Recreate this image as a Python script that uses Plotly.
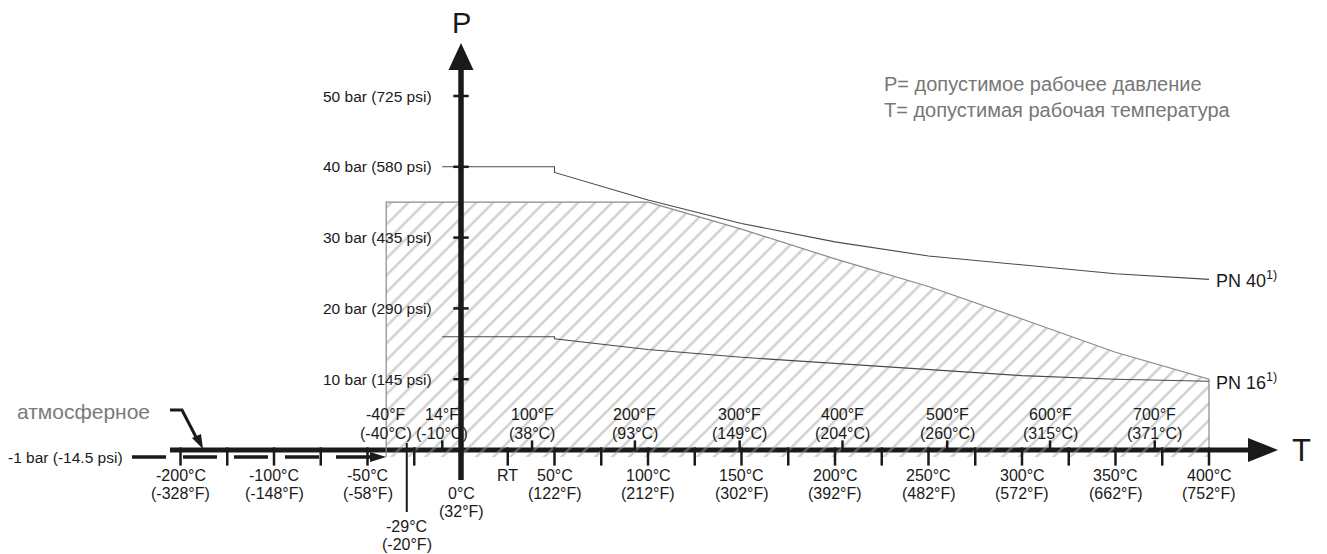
import plotly.graph_objects as go

# ---------------- data ----------------
# hatched permissible area (T in °C, P in bar)
area_T = [-40, -40, 100, 150, 200, 250, 300, 350, 400, 400]
area_P = [-1, 35, 35, 31.2, 27.0, 23.1, 18.5, 13.8, 10.0, -1]

# PN 40 limit curve
pn40_T = [-10, 50, 50, 100, 150, 200, 250, 300, 350, 400]
pn40_P = [40, 40, 39.2, 35.3, 32.0, 29.4, 27.4, 26.1, 24.9, 24.1]

# PN 16 limit curve
pn16_T = [-10, 50, 50, 100, 150, 200, 250, 300, 350, 400]
pn16_P = [16.0, 16.0, 15.7, 14.2, 13.1, 12.2, 11.3, 10.5, 10.0, 9.7]

# pressure axis
p_ticks = [50, 40, 30, 20, 10]
p_labels = ["50 bar (725 psi)", "40 bar (580 psi)", "30 bar (435 psi)",
            "20 bar (290 psi)", "10 bar (145 psi)"]
atm_P = -1
atm_label = "-1 bar (-14.5 psi)"

# temperature axis: ticks below the axis (°C); left of -100 the scale is broken,
# the tick at -150 carries the -200°C label
c_ticks = [-150, -125, -100, -75, -50, -25, 25, 50, 75, 100, 125, 150, 175,
           200, 225, 250, 275, 300, 325, 350, 375, 400]
c_label_pos = [-150, -100, -50, 50, 100, 150, 200, 250, 300, 350, 400]
c_label_c = ["-200°C", "-100°C", "-50°C", "50°C", "100°C", "150°C", "200°C",
             "250°C", "300°C", "350°C", "400°C"]
c_label_f = ["(-328°F)", "(-148°F)", "(-58°F)", "(122°F)", "(212°F)", "(302°F)",
             "(392°F)", "(482°F)", "(572°F)", "(662°F)", "(752°F)"]
rt_pos = 25
rt_label = "RT"
zero_label = ["0°C", "(32°F)"]
min_pos = -29
min_label = ["-29°C", "(-20°F)"]

# ticks above the axis (Fahrenheit values placed at their °C position)
f_ticks = [-10, 38, 93, 149, 204, 260, 315, 371]
f_label_pos = [-40, -10, 38, 93, 149, 204, 260, 315, 371]
f_label_f = ["-40°F", "14°F", "100°F", "200°F", "300°F", "400°F", "500°F",
             "600°F", "700°F"]
f_label_c = ["(-40°C)", "(-10°C)", "(38°C)", "(93°C)", "(149°C)", "(204°C)",
             "(260°C)", "(315°C)", "(371°C)"]

legend_lines = ["P= допустимое рабочее давление", "T= допустимая рабочая температура"]
atm_text = "атмосферное"

# ---------------- scale / layout ----------------
W, H = 1327, 554
ORIG_X, ORIG_Y = 461, 450          # pixel of (0 °C, 0 bar)
PX_C, PX_BAR = 1.87, 7.08          # pixels per °C / per bar
x_range = [-ORIG_X / PX_C, (W - ORIG_X) / PX_C]
y_range = [-(H - ORIG_Y) / PX_BAR, ORIG_Y / PX_BAR]


def dx(px):
    return px / PX_C


def dy(px):
    return px / PX_BAR


FONT = "Liberation Sans, Arial, Helvetica, sans-serif"
NARROW = "Liberation Sans Narrow, Arial Narrow, Liberation Sans, sans-serif"
INK = "#1a1a1a"

fig = go.Figure()


def line(xs, ys, color=INK, width=1.0, dash=None):
    fig.add_trace(go.Scatter(x=xs, y=ys, mode="lines", hoverinfo="skip",
                             line=dict(color=color, width=width, dash=dash),
                             showlegend=False))


def tri(xs, ys, color=INK):
    fig.add_trace(go.Scatter(x=xs, y=ys, mode="lines", fill="toself",
                             fillcolor=color, line=dict(width=0),
                             hoverinfo="skip", showlegend=False))


# temperature axis (under the hatching)
t_start = dx(170 - ORIG_X)
t_tip = dx(1278 - ORIG_X)
line([t_start, t_tip - dx(28)], [0, 0], width=5)
tri([t_tip - dx(30), t_tip, t_tip - dx(30), t_tip - dx(30)],
    [dy(12), 0, -dy(12), dy(12)])

# hatched area
fig.add_trace(go.Scatter(
    x=area_T, y=area_P, mode="lines", fill="toself",
    fillcolor="rgba(0,0,0,0)",
    fillpattern=dict(shape="/", size=12, solidity=0.2, fgcolor="#a0a0a0",
                     bgcolor="rgba(0,0,0,0)"),
    line=dict(color="#8a8a8a", width=1.2), hoverinfo="skip", showlegend=False))

# PN curves
line(pn40_T, pn40_P, color="#4a4a4a", width=1.1)
line(pn16_T, pn16_P, color="#4a4a4a", width=1.1)

# pressure axis
p_bottom = -dy(480 - ORIG_Y)
p_tip = dy(ORIG_Y - 43)
line([0, 0], [p_bottom, p_tip - dy(25)], width=5.5)
tri([-dx(12.5), 0, dx(12.5), -dx(12.5)],
    [p_tip - dy(27), p_tip, p_tip - dy(27), p_tip - dy(27)])

# -1 bar dashed line with arrow to the hatched area
line([dx(132 - ORIG_X), dx(372 - ORIG_X)], [atm_P, atm_P], width=3.5,
     dash="34px,17px")
tri([dx(370 - ORIG_X), area_T[0], dx(370 - ORIG_X), dx(370 - ORIG_X)],
    [atm_P + dy(5), atm_P, atm_P - dy(5), atm_P + dy(5)])

# ticks below axis
fig.add_trace(go.Scatter(
    x=c_ticks, y=[-dy(6.5)] * len(c_ticks), mode="markers", hoverinfo="skip",
    marker=dict(symbol="line-ns", size=13, line=dict(color=INK, width=2.5)),
    showlegend=False))
# ticks above axis
fig.add_trace(go.Scatter(
    x=f_ticks, y=[dy(4)] * len(f_ticks), mode="markers", hoverinfo="skip",
    marker=dict(symbol="line-ns", size=8, line=dict(color=INK, width=2.5)),
    showlegend=False))
# pressure ticks
fig.add_trace(go.Scatter(
    x=[0] * len(p_ticks), y=p_ticks, mode="markers", hoverinfo="skip",
    marker=dict(symbol="line-ew", size=11, line=dict(color=INK, width=2.5)),
    showlegend=False))
# long -29 °C tick
line([min_pos, min_pos], [dy(7), -dy(62)], width=2)

# atmospheric leader arrow
lx = [dx(170 - ORIG_X), dx(182 - ORIG_X), dx(197 - ORIG_X)]
ly = [dy(40), dy(40), dy(11)]
line(lx, ly, width=3)
tip_x, tip_y = dx(203 - ORIG_X), dy(1)
tri([dx(192 - ORIG_X), tip_x, dx(201 - ORIG_X), dx(192 - ORIG_X)],
    [dy(12), tip_y, dy(16), dy(12)])

ann = []


def text(x, y, s, size=16, color=INK, xanchor="center", yanchor="middle",
         xshift=0, yshift=0, family=FONT):
    ann.append(dict(x=x, y=y, text=s, showarrow=False, xanchor=xanchor,
                    yanchor=yanchor, xshift=xshift, yshift=yshift,
                    font=dict(family=family, size=size, color=color)))


for pos, a, b in zip(c_label_pos, c_label_c, c_label_f):
    text(pos, 0, a, yshift=-25)
    text(pos, 0, b, yshift=-43)
text(rt_pos, 0, rt_label, yshift=-25)
text(0, 0, zero_label[0], yshift=-43)
text(0, 0, zero_label[1], yshift=-61)
text(min_pos, 0, min_label[0], yshift=-76)
text(min_pos, 0, min_label[1], yshift=-94)
for pos, a, b in zip(f_label_pos, f_label_f, f_label_c):
    text(pos, 0, a, yshift=36)
    text(pos, 0, b, yshift=17)
for p, s in zip(p_ticks, p_labels):
    text(0, p, s, size=15.5, xanchor="right", xshift=-27)
text(0, atm_P, atm_label, size=15.5, xanchor="right", xshift=-(ORIG_X - 125))

text(0, p_tip, "P", size=29, yshift=20)
text(t_tip, 0, "T", size=31, xanchor="left", xshift=12)
text(dx(15 - ORIG_X), dy(ORIG_Y - 411), atm_text, size=21, color="#7a7a7a",
     xanchor="left")
text(dx(882 - ORIG_X), dy(ORIG_Y - 84), legend_lines[0], size=20,
     color="#777777", xanchor="left")
text(dx(882 - ORIG_X), dy(ORIG_Y - 110), legend_lines[1], size=20,
     color="#777777", xanchor="left")
text(pn40_T[-1], pn40_P[-1], "PN 40<sup>1)</sup>", size=18, xanchor="left",
     xshift=5, family=NARROW)
text(pn16_T[-1], pn16_P[-1], "PN 16<sup>1)</sup>", size=18, xanchor="left",
     xshift=5, family=NARROW)

fig.update_layout(
    width=W, height=H, autosize=False,
    margin=dict(l=0, r=0, t=0, b=0, pad=0),
    paper_bgcolor="white", plot_bgcolor="white",
    xaxis=dict(range=x_range, visible=False, fixedrange=True),
    yaxis=dict(range=y_range, visible=False, fixedrange=True),
    annotations=ann, showlegend=False,
)

fig.write_html("out.html", config=dict(displayModeBar=False),
               post_script="document.body.style.margin='0';document.body.style.overflow='hidden';")
